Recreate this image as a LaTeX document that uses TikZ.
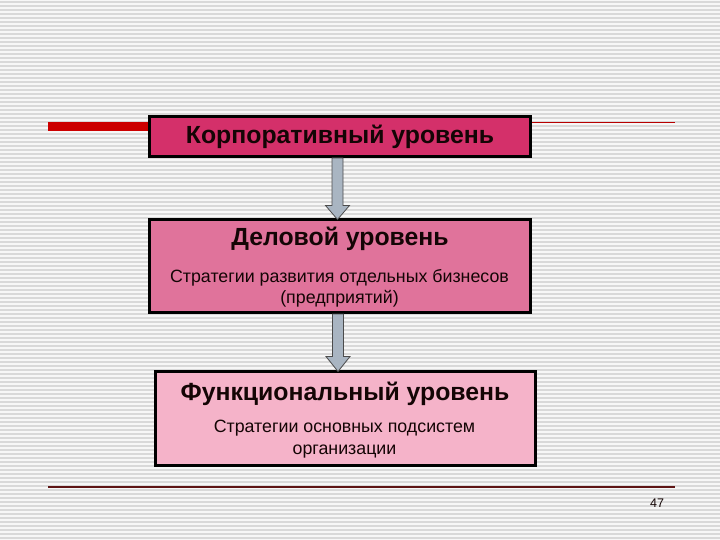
\documentclass[tikz,border=0pt]{standalone}
\usepackage{fontspec}
\setmainfont{Liberation Sans}
\usetikzlibrary{calc}
\definecolor{bgc}{HTML}{F7F7F7}
\definecolor{stripec}{HTML}{D9D9D9}
\definecolor{cone}{HTML}{D4306A}
\definecolor{ctwo}{HTML}{E0739B}
\definecolor{cthree}{HTML}{F5B3C9}
\definecolor{arrowc}{HTML}{A9B5C2}
\definecolor{redbar}{HTML}{CC0000}
\definecolor{footline}{HTML}{5E1515}
\definecolor{txt}{HTML}{140505}
\tikzset{
  stripe/.style={stripec, line width=1.5pt},
  levelbox/.style={draw=black, line width=3pt, inner sep=0pt, outer sep=0pt},
  ttl/.style={font=\bfseries\fontsize{24.8}{28}\selectfont, text=txt, inner sep=0pt, anchor=base},
  sub/.style={font=\fontsize{17.8}{20}\selectfont, text=txt, inner sep=0pt, anchor=base},
  blockarrow/.style={draw=black!70, fill=arrowc, line width=0.8pt, line join=miter}
}
\begin{document}
\begin{tikzpicture}[x=1pt,y=-1pt]
\useasboundingbox (0,0) rectangle (720,540);
\fill[bgc] (0,0) rectangle (720,540);
\foreach \k in {0,...,134} \draw[stripe] (0,{4*\k+2}) -- (720,{4*\k+2});

% decorative lines
\fill[redbar] (48,122) rectangle (149,131);
\draw[redbar!90!black, line width=1pt] (531,123) -- (675,123);
\draw[footline, line width=1.3pt] (48,487) -- (675,487);

% boxes
\node[levelbox, fill=cone, minimum width=381pt, minimum height=40pt] (b1) at (340,136.5) {};
\node[levelbox, fill=ctwo, minimum width=381pt, minimum height=93pt] (b2) at (340,266) {};
\node[levelbox, fill=cthree, minimum width=380pt, minimum height=94pt] (b3) at (345,418.5) {};

% arrows
\coordinate (a1s) at ($(b1.south)+(-2.5,1.5)$);
\coordinate (a1e) at ($(b2.north)+(-2.5,0)$);
\coordinate (a2s) at ($(b2.south)+(-2,1.5)$);
\coordinate (a2e) at ($(b3.north)+(-7,0)$);
\draw[blockarrow] ($(a1s)+(-5.5,0)$) -- ($(a1e)+(-5.5,-14)$) -- ($(a1e)+(-12,-14)$) -- (a1e)
  -- ($(a1e)+(12,-14)$) -- ($(a1e)+(5.5,-14)$) -- ($(a1s)+(5.5,0)$) -- cycle;
\draw[blockarrow] ($(a2s)+(-5.5,0)$) -- ($(a2e)+(-5.5,-15)$) -- ($(a2e)+(-12,-15)$) -- (a2e)
  -- ($(a2e)+(12,-15)$) -- ($(a2e)+(5.5,-15)$) -- ($(a2s)+(5.5,0)$) -- cycle;

% texts
\node[ttl] (t1) at ($(b1.north)+(0,27)$) {Корпоративный уровень};
\node[ttl] (t2) at ($(b2.north)+(0,26)$) {Деловой уровень};
\node[sub] (s2a) at ($(b2.north)+(-0.5,63)$) {Стратегии развития отдельных бизнесов};
\node[sub] (s2b) at ($(b2.north)+(-0.5,84)$) {(предприятий)};
\node[ttl] (t3) at ($(b3.north)+(0,29)$) {Функциональный уровень};
\node[sub] (s3a) at ($(b3.north)+(-0.5,61)$) {Стратегии основных подсистем};
\node[sub] (s3b) at ($(b3.north)+(-0.5,83)$) {организации};

\node[font=\fontsize{12.5}{14}\selectfont, text=txt, inner sep=0pt, anchor=base] (pg) at (657,507) {47};
\end{tikzpicture}
\end{document}
